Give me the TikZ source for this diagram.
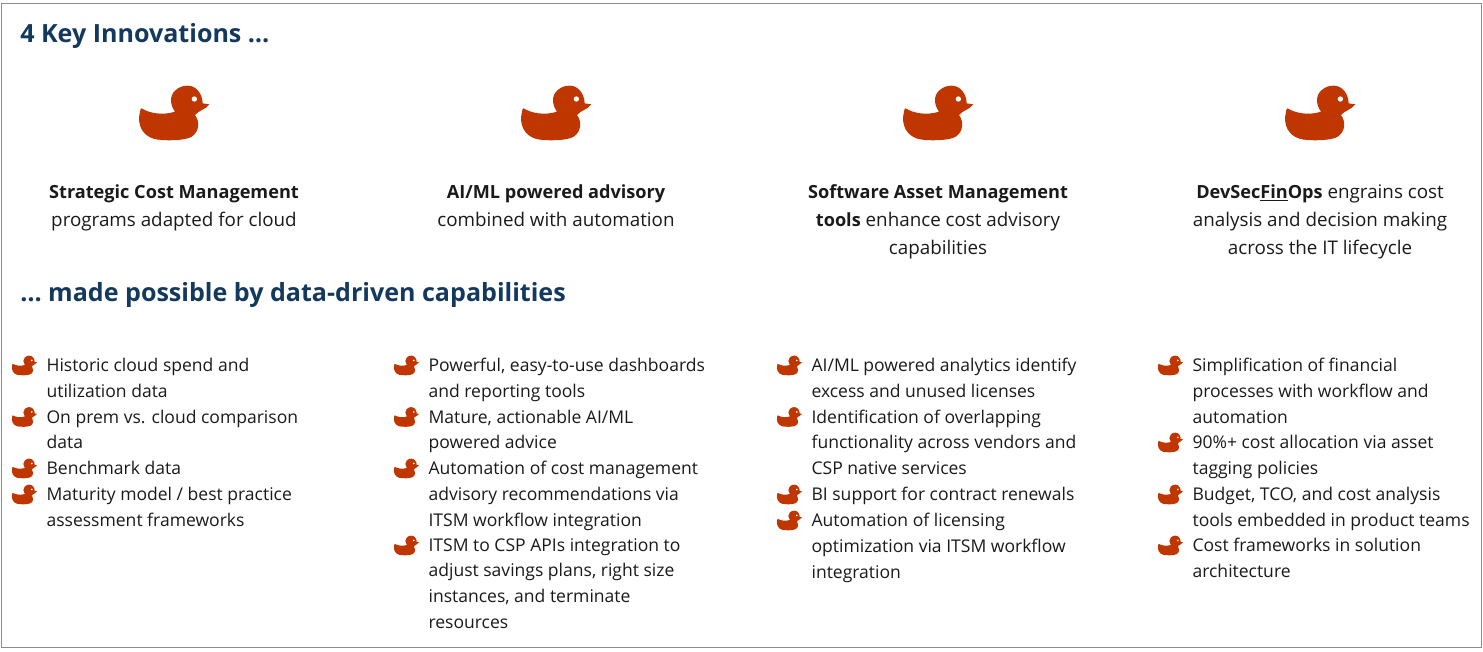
\documentclass[tikz,border=0pt]{standalone}
\usepackage{fontspec}
\setmainfont{Open Sans}
\definecolor{duckc}{HTML}{C03600}
\definecolor{headc}{HTML}{14395E}
\definecolor{framec}{HTML}{8C8C8C}
\definecolor{textc}{HTML}{1A1A1A}
\tikzset{
  duckshape/.pic={
    \begin{scope}[x=#1pt,y=-#1pt]
    \fill[duckc] (65,115) .. controls (85,128) and (125,138) .. (165,125)
      .. controls (150,105) and (148,78) .. (165,62)
      .. controls (178,50) and (190,47) .. (203,47)
      .. controls (230,47) and (247,72) .. (248,100)
      -- (268,103) .. controls (258,118) and (235,122) .. (225,135)
      .. controls (240,155) and (238,185) .. (215,200)
      .. controls (200,212) and (125,214) .. (100,206)
      .. controls (68,196) and (50,165) .. (60,125)
      .. controls (61,118) and (62,115) .. (65,115) -- cycle;
    \fill[white] (223,87) circle (8);
    \end{scope}
  },
  headtext/.style={anchor=base west,inner sep=0pt,text=headc,font=\fontsize{18.8}{24}\selectfont\bfseries},
  leadtext/.style={anchor=north,inner sep=0pt,align=center,text=textc,font=\fontsize{14.1}{21}\selectfont,execute at begin node={\strut}},
  itemtext/.style={anchor=north west,inner sep=0pt,align=left,text=textc,font=\fontsize{13.15}{19.3}\selectfont,execute at begin node={\strut}}
}
\newcommand{\bigduckat}[1]{\pic at (#1,70) {duckshape=0.25};}
\newcommand{\itemat}[4]{\pic at (#1-11,#2-2) {duckshape=0.09};\node[itemtext] (#3) at (#1+30.3,#2+6) {#4};}
\newcommand{\itemone}[4]{\pic at (#1-11,#2-2) {duckshape=0.09};\node[itemtext] (#3) at (#1+30.3,#2+1) {#4};}
\newcommand{\leadbf}[1]{{\fontsize{13.6}{21}\selectfont\bfseries #1}}
\begin{document}
\begin{tikzpicture}[x=0.75pt,y=-0.75pt]
\useasboundingbox (0,0) rectangle (1483,651);
\draw[framec,line width=0.75pt] (1,3) rectangle (1481,647);
\node[headtext] (h1) at (20,42.5) {4 Key Innovations …};
\node[headtext] (h2) at (20,301) {… made possible by data-driven capabilities};
\bigduckat{120}
\bigduckat{502}
\bigduckat{884}
\bigduckat{1266}
\node[leadtext] (l1) at (174,184.5) {\leadbf{Strategic Cost Management}\\programs adapted for cloud};
\node[leadtext] (l2) at (556,184.5) {\leadbf{AI/ML powered advisory}\\combined with automation};
\node[leadtext] (l3) at (938,184.5) {\leadbf{Software Asset Management}\\\leadbf{tools} enhance cost advisory\\capabilities};
\node[leadtext] (l4) at (1320,184.5) {\leadbf{DevSec\underline{Fin}Ops} engrains cost\\analysis and decision making\\across the IT lifecycle};
% column 1
\itemat{16}{352}{a1}{Historic cloud spend and\\utilization data}
\itemat{16}{403.5}{a2}{On prem vs. cloud comparison\\data}
\itemone{16}{455}{a3}{Benchmark data}
\itemat{16}{481}{a4}{Maturity model / best practice\\assessment frameworks}
% column 2
\itemat{398}{352}{b1}{Powerful, easy-to-use dashboards\\and reporting tools}
\itemat{398}{403.5}{b2}{Mature, actionable AI/ML\\powered advice}
\itemat{398}{455}{b3}{Automation of cost management\\advisory recommendations via\\ITSM workflow integration}
\itemat{398}{532}{b4}{ITSM to CSP APIs integration to\\adjust savings plans, right size\\instances, and terminate\\resources}
% column 3
\itemat{781}{352}{c1}{AI/ML powered analytics identify\\excess and unused licenses}
\itemat{781}{403.5}{c2}{Identification of overlapping\\functionality across vendors and\\CSP native services}
\itemone{781}{481}{c3}{BI support for contract renewals}
\itemat{781}{507}{c4}{Automation of licensing\\optimization via ITSM workflow\\integration}
% column 4
\itemat{1162}{352}{d1}{Simplification of financial\\processes with workflow and\\automation}
\itemat{1162}{429}{d2}{90\%+ cost allocation via asset\\tagging policies}
\itemat{1162}{481}{d3}{Budget, TCO, and cost analysis\\tools embedded in product teams}
\itemat{1162}{532}{d4}{Cost frameworks in solution\\architecture}
\end{tikzpicture}
\end{document}
